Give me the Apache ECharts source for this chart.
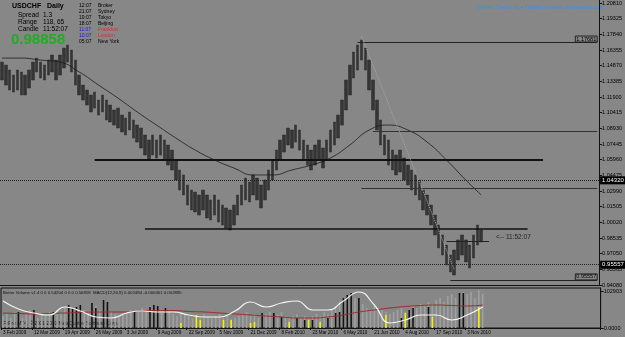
<!DOCTYPE html>
<html>
<head>
<meta charset="utf-8">
<script src="https://cdn.jsdelivr.net/npm/echarts@6/dist/echarts.min.js"></script>
<style>
html,body{margin:0;padding:0;background:#878787;}
#chart{width:625px;height:337px;}
</style>
</head>
<body>
<div id="chart"></div>
<script>
// USDCHF daily, one sample every ~4 bars
var dateTicks = ['3 Feb 2009','12 Mar 2009','19 Apr 2009','26 May 2009','3 Jul 2009','9 Aug 2009','22 Sep 2009','5 Nov 2009','21 Dec 2009','8 Feb 2010','23 Mar 2010','6 May 2010','21 Jun 2010','4 Aug 2010','17 Sep 2010','3 Nov 2010'];
var priceTicks = [1.2081,1.19325,1.1784,1.16355,1.1487,1.13385,1.119,1.10415,1.0893,1.07445,1.0596,1.04475,1.0299,1.01505,1.0002,0.98535,0.9705,0.95565,0.9408];

var highs = [1.1521,1.1493,1.1446,1.1398,1.1446,1.1427,1.1398,1.1446,1.1521,1.1559,
  1.1521,1.1493,1.1540,1.1588,1.1540,1.1588,1.1654,1.1683,1.1635,1.1540,
  1.1398,1.1303,1.1256,1.1209,1.1237,1.1161,1.1209,1.1161,1.1114,1.1067,
  1.1085,1.1019,1.0991,1.1048,1.0972,1.0924,1.0896,1.0830,1.0782,1.0830,
  1.0782,1.0830,1.0782,1.0735,1.0687,1.0593,1.0498,1.0451,1.0356,1.0308,
  1.0289,1.0261,1.0308,1.0261,1.0214,1.0261,1.0214,1.0166,1.0138,1.0119,
  1.0166,1.0261,1.0356,1.0422,1.0384,1.0451,1.0422,1.0356,1.0403,1.0498,
  1.0593,1.0687,1.0782,1.0830,1.0896,1.0877,1.0924,1.0877,1.0782,1.0735,
  1.0687,1.0735,1.0782,1.0706,1.0782,1.0877,1.0953,1.1019,1.1161,1.1351,
  1.1493,1.1616,1.1683,1.1730,1.1654,1.1540,1.1351,1.1161,1.0972,1.0830,
  1.0782,1.0687,1.0640,1.0687,1.0612,1.0545,1.0498,1.0451,1.0403,1.0308,
  1.0261,1.0166,1.0071,0.9977,0.9882,0.9787,0.9692,0.9740,0.9835,0.9882,
  0.9835,0.9787,0.9882,0.9977,0.9929];
var lows = [1.1351,1.1303,1.1256,1.1237,1.1256,1.1209,1.1209,1.1275,1.1351,1.1427,
  1.1370,1.1351,1.1398,1.1427,1.1351,1.1398,1.1465,1.1521,1.1427,1.1303,
  1.1209,1.1161,1.1114,1.1048,1.1085,1.1019,1.1048,1.0972,1.0953,1.0924,
  1.0896,1.0858,1.0830,1.0877,1.0801,1.0763,1.0706,1.0640,1.0593,1.0640,
  1.0612,1.0640,1.0593,1.0545,1.0498,1.0403,1.0308,1.0261,1.0166,1.0119,
  1.0100,1.0071,1.0119,1.0043,1.0024,1.0071,1.0005,0.9977,0.9948,0.9929,
  0.9977,1.0071,1.0166,1.0214,1.0195,1.0261,1.0214,1.0138,1.0214,1.0308,
  1.0403,1.0498,1.0593,1.0668,1.0735,1.0706,1.0763,1.0687,1.0593,1.0545,
  1.0498,1.0545,1.0593,1.0517,1.0593,1.0668,1.0735,1.0801,1.0924,1.1067,
  1.1209,1.1370,1.1446,1.1540,1.1446,1.1256,1.1067,1.0877,1.0735,1.0640,
  1.0545,1.0498,1.0451,1.0479,1.0403,1.0356,1.0308,1.0261,1.0214,1.0119,
  1.0071,0.9977,0.9882,0.9759,0.9692,0.9598,0.9531,0.9503,0.9645,0.9692,
  0.9626,0.9569,0.9664,0.9787,0.9816];

// moving average, read at every 5th sample
var maIdx = [0,5,10,15,20,25,30,35,40,45,50,55,60,65,70,75,80,85,90,95,100,105,110,115,120,124];
var maVals = [1.1559,1.1559,1.1540,1.1521,1.1427,1.1303,1.1180,1.1048,1.0924,1.0801,1.0687,1.0593,1.0517,1.0451,1.0451,1.0498,1.0545,1.0612,1.0735,1.0877,1.0924,1.0877,1.0763,1.0593,1.0403,1.0261];

// MACD lines, read at every 4th sample
var macdIdx = [0,4,8,12,16,20,24,28,32,36,40,44,48,52,56,60,64,68,72,76,80,84,88,92,96,100,104,108,112,116,120,124];
var macdMain = [0.007,-0.001,-0.005,-0.007,0.001,-0.003,-0.009,-0.010,-0.005,-0.003,-0.004,-0.004,-0.007,-0.009,-0.009,-0.003,0.006,0.001,0.005,0.007,-0.002,-0.002,0.007,0.016,0.003,-0.015,-0.012,-0.007,-0.007,-0.012,-0.007,0.001];
var macdSignal = [-0.005,-0.0055,-0.006,-0.0055,-0.005,-0.0045,-0.004,-0.004,-0.004,-0.003,-0.0025,-0.0025,-0.0035,-0.004,-0.005,-0.006,-0.007,-0.008,-0.009,-0.010,-0.010,-0.009,-0.007,-0.004,-0.002,0.000,0.0015,0.0025,0.003,0.0025,0.002,0.003];

// Better Volume bars
var volGray = [33600,39200,28000,44800,33600,28000,39200,50400,33600,28000,
  39200,33600,44800,36400,50400,42000,56000,61600,50400,44800,
  56000,50400,44800,42000,61600,50400,67200,56000,44800,39200,
  33600,39200,44800,50400,39200,44800,56000,50400,61600,44800,
  50400,42000,56000,44800,39200,33600,44800,39200,33600,28000,
  33600,28000,39200,33600,28000,33600,39200,28000,33600,25200,
  28000,33600,39200,44800,33600,39200,28000,33600,39200,44800,
  33600,39200,44800,33600,28000,33600,39200,28000,33600,28000,
  33600,39200,33600,44800,39200,50400,61600,72800,84000,89600,
  95200,84000,78400,67200,56000,50400,61600,56000,50400,44800,
  39200,44800,50400,56000,44800,50400,61600,56000,67200,61600,
  72800,67200,78400,84000,72800,89600,95200,84000,89600,100800,
  95200,100800,84000,106400,95200];
var volBlackIdx = [4,8,13,17,18,19,20,23,24,26,27,34,38,39,40,42,67,70,72,76,78,80,84,86,87,88,89,90,92,103,105,106,110,118,119];
var volBlack = [44800,50400,44800,64400,56000,58800,64400,70000,56000,78400,72800,44800,58800,64400,61600,56000,42000,42000,30800,28000,22400,22400,28000,42000,44800,84000,92400,98000,84000,28000,50400,56000,58800,98000,98000];
var volYellowIdx = [46,50,51,57,59,64,65,74,79,82,99,104,111,123];
var volYellow = [14000,36400,22400,22400,22400,14000,16800,16800,22400,16800,36400,42000,30800,58800];

var NCAT = 155;
var cats = [];
for (var i = 0; i < NCAT; i++) {
  cats.push(i % 8 === 0 && dateTicks[i / 8] ? dateTicks[i / 8] : '');
}

var candles = highs.map(function (h, i) { return [lows[i], h, lows[i], h]; });
var maData = maIdx.map(function (k, i) { return [k, maVals[i]]; });
var macdMainData = macdIdx.map(function (k, i) { return [k, macdMain[i]]; });
var macdSigData = macdIdx.map(function (k, i) { return [k, macdSignal[i]]; });
var blackData = volBlackIdx.map(function (k, i) { return [k, volBlack[i]]; });
var yellowData = volYellowIdx.map(function (k, i) { return [k, volYellow[i]]; });

function seg(k1, k2, v, w, color, type) {
  return [{coord: [k1, v], lineStyle: {width: w, color: color, type: type || 'solid'}}, {coord: [k2, v]}];
}
function axisBox(v, txt, lineType) {
  return {
    yAxis: v,
    lineStyle: {color: '#222', width: 1, type: lineType, opacity: lineType ? 1 : 0},
    label: {show: true, position: 'end', distance: 1, formatter: txt, color: '#fff',
      backgroundColor: '#000', fontSize: 6, fontFamily: 'Liberation Sans', padding: [1, 2]}
  };
}
function endTag(k1, k2, v, txt) {
  return [{coord: [k1, v], lineStyle: {width: 1, color: '#222', type: 'solid'},
    label: {show: true, position: 'insideEndTop', distance: 0, formatter: txt, color: '#000',
      fontSize: 5.5, fontFamily: 'Liberation Sans', borderColor: '#222', borderWidth: 1, padding: [0, 1]}},
    {coord: [k2, v]}];
}

var chart = echarts.init(document.getElementById('chart'));
var option = {
  backgroundColor: '#878787',
  animation: false,
  grid: [
    {left: 0, right: 19, top: 0, height: 285},
    {left: 0, right: 19, top: 288, height: 40, show: true, borderColor: '#111', borderWidth: 1}
  ],
  xAxis: [
    {type: 'category', gridIndex: 0, data: cats, boundaryGap: true,
      axisLine: {lineStyle: {color: '#111'}}, axisTick: {show: false}, axisLabel: {show: false}},
    {type: 'category', gridIndex: 1, data: cats, boundaryGap: true,
      axisLine: {lineStyle: {color: '#111'}},
      axisTick: {show: true, length: 2, lineStyle: {color: '#111'},
        interval: function (i, v) { return v !== ''; }},
      axisLabel: {show: true, interval: function (i, v) { return v !== ''; }, align: 'left',
        showMinLabel: true, hideOverlap: false,
        margin: 2, fontFamily: 'Liberation Sans', fontSize: 4.6, color: '#000'}}
  ],
  yAxis: [
    {type: 'value', gridIndex: 0, position: 'right', min: 0.9408, max: 1.2109, scale: true,
      splitLine: {show: false},
      axisLine: {show: true, lineStyle: {color: '#111'}},
      axisTick: {show: true, length: 3, customValues: priceTicks, lineStyle: {color: '#111'}},
      axisLabel: {customValues: priceTicks, margin: 3, fontFamily: 'Liberation Sans', fontSize: 5.5,
        color: '#000', formatter: function (v) { return v.toFixed(5); }}},
    {type: 'value', gridIndex: 1, position: 'right', min: 0, max: 112000,
      splitLine: {show: false},
      axisLine: {show: true, lineStyle: {color: '#111'}},
      axisTick: {show: true, length: 3, customValues: [0, 102903], lineStyle: {color: '#111'}},
      axisLabel: {customValues: [0, 102903], margin: 3, fontFamily: 'Liberation Sans', fontSize: 5.5,
        color: '#000', formatter: function (v) { return v === 0 ? '0.0000' : String(v); }}},
    {type: 'value', gridIndex: 1, min: -0.02, max: 0.02, show: false}
  ],
  series: [
    {
      type: 'candlestick', xAxisIndex: 0, yAxisIndex: 0, barWidth: 3, data: candles,
      itemStyle: {color: '#353535', color0: '#353535', borderColor: '#2a2a2a', borderColor0: '#2a2a2a', borderWidth: 0.5},
      markLine: {
        silent: true, symbol: ['none', 'none'], label: {show: false},
        data: [
          seg(24, 140, 1.0593, 2, '#111'),
          seg(37, 136, 0.9939, 1.5, '#111'),
          seg(96, 154, 1.0868, 1, '#333'),
          seg(93, 154, 1.0327, 1, '#333'),
          endTag(92, 154, 1.1711, '1.17681'),
          endTag(116, 154, 0.9456, '0.95557'),
          seg(115, 126, 0.9825, 1, '#222'),
          [{coord: [93, 1.1768], lineStyle: {width: 1, color: '#a8a8a8', type: 'dotted'}}, {coord: [117, 0.9556]}],
          axisBox(1.0432, '1.04320', 'dotted'),
          axisBox(0.95557, '0.95557', 'dotted'),
          axisBox(0.98858, '0.98858', null)
        ]
      }
    },
    {
      type: 'line', xAxisIndex: 0, yAxisIndex: 0, data: maData, smooth: true, showSymbol: false,
      lineStyle: {color: '#1a1a1a', width: 0.8}
    },
    {type: 'bar', xAxisIndex: 1, yAxisIndex: 1, data: volGray, barWidth: 1.6, barGap: '-100%',
      itemStyle: {color: '#a0a0a0'}},
    {type: 'bar', xAxisIndex: 1, yAxisIndex: 1, data: blackData, barWidth: 1.6, barGap: '-100%',
      itemStyle: {color: '#111'}},
    {type: 'bar', xAxisIndex: 1, yAxisIndex: 1, data: yellowData, barWidth: 1.6, barGap: '-100%',
      itemStyle: {color: '#f2f200'}},
    {type: 'line', xAxisIndex: 1, yAxisIndex: 2, data: macdSigData, smooth: true, showSymbol: false,
      lineStyle: {color: '#9c2a2a', width: 1}},
    {type: 'line', xAxisIndex: 1, yAxisIndex: 2, data: macdMainData, smooth: true, showSymbol: false,
      lineStyle: {color: '#f4f4f4', width: 1.2}}
  ],
  graphic: [
    {type: 'text', left: 12, top: 3, style: {text: 'USDCHF   Daily', font: 'bold 7px Liberation Sans', fill: '#000'}},
    {type: 'text', left: 18, top: 12, style: {text: 'Spread', font: '6.5px Liberation Sans', fill: '#000'}},
    {type: 'text', left: 43, top: 12, style: {text: '1.3', font: '6.5px Liberation Sans', fill: '#000'}},
    {type: 'text', left: 18, top: 19, style: {text: 'Range', font: '6.5px Liberation Sans', fill: '#000'}},
    {type: 'text', left: 43, top: 19, style: {text: '118, 65', font: '6.5px Liberation Sans', fill: '#000'}},
    {type: 'text', left: 18, top: 26, style: {text: 'Candle', font: '6.5px Liberation Sans', fill: '#000'}},
    {type: 'text', left: 43, top: 26, style: {text: '11:52:07', font: '6.5px Liberation Sans', fill: '#000'}},
    {type: 'text', left: 11, top: 32, style: {text: '0.98858', font: 'bold 15px Liberation Sans', fill: '#1fae1f'}},
    {type: 'text', left: 79, top: 3, style: {text: '12:07\n21:07\n19:07\n18:07', font: '5px Liberation Sans', fill: '#000', lineHeight: 6}},
    {type: 'text', left: 79, top: 27, style: {text: '11:07\n10:07', font: '5px Liberation Sans', fill: '#1515ee', lineHeight: 6}},
    {type: 'text', left: 79, top: 39, style: {text: '05:07', font: '5px Liberation Sans', fill: '#000'}},
    {type: 'text', left: 98, top: 3, style: {text: 'Broker\nSydney\nTokyo\nBeijing', font: '5px Liberation Sans', fill: '#000', lineHeight: 6}},
    {type: 'text', left: 98, top: 27, style: {text: 'Frankfurt\nLondon', font: '5px Liberation Sans', fill: '#e02828', lineHeight: 6}},
    {type: 'text', left: 98, top: 39, style: {text: 'New York', font: '5px Liberation Sans', fill: '#000'}},
    {type: 'text', right: 21, top: 4, style: {text: 'SPA4X Trader V14 Trading System sixfiguresfx.com', font: '5.5px Liberation Sans', fill: '#2f8fff'}},
    {type: 'text', left: 496, top: 234, style: {text: '<-- 11:52:07', font: '6.5px Liberation Sans', fill: '#222'}},
    {type: 'text', left: 3, top: 291, style: {text: 'Better Volume v1.4 0 0 0.54204 0 0 0 0.56858  MACD(12,26,9) 0.002484 -0.000401 0.002885', font: '4.3px Liberation Sans', fill: '#111'}},
    {type: 'text', left: 3, top: 321, style: {text: 'FxPro MT4, \u00a9 2001-2010 MetaQuotes Software Corp.', font: '4.8px Liberation Sans', fill: '#111'}}
  ]
};
chart.setOption(option);
</script>
</body>
</html>
